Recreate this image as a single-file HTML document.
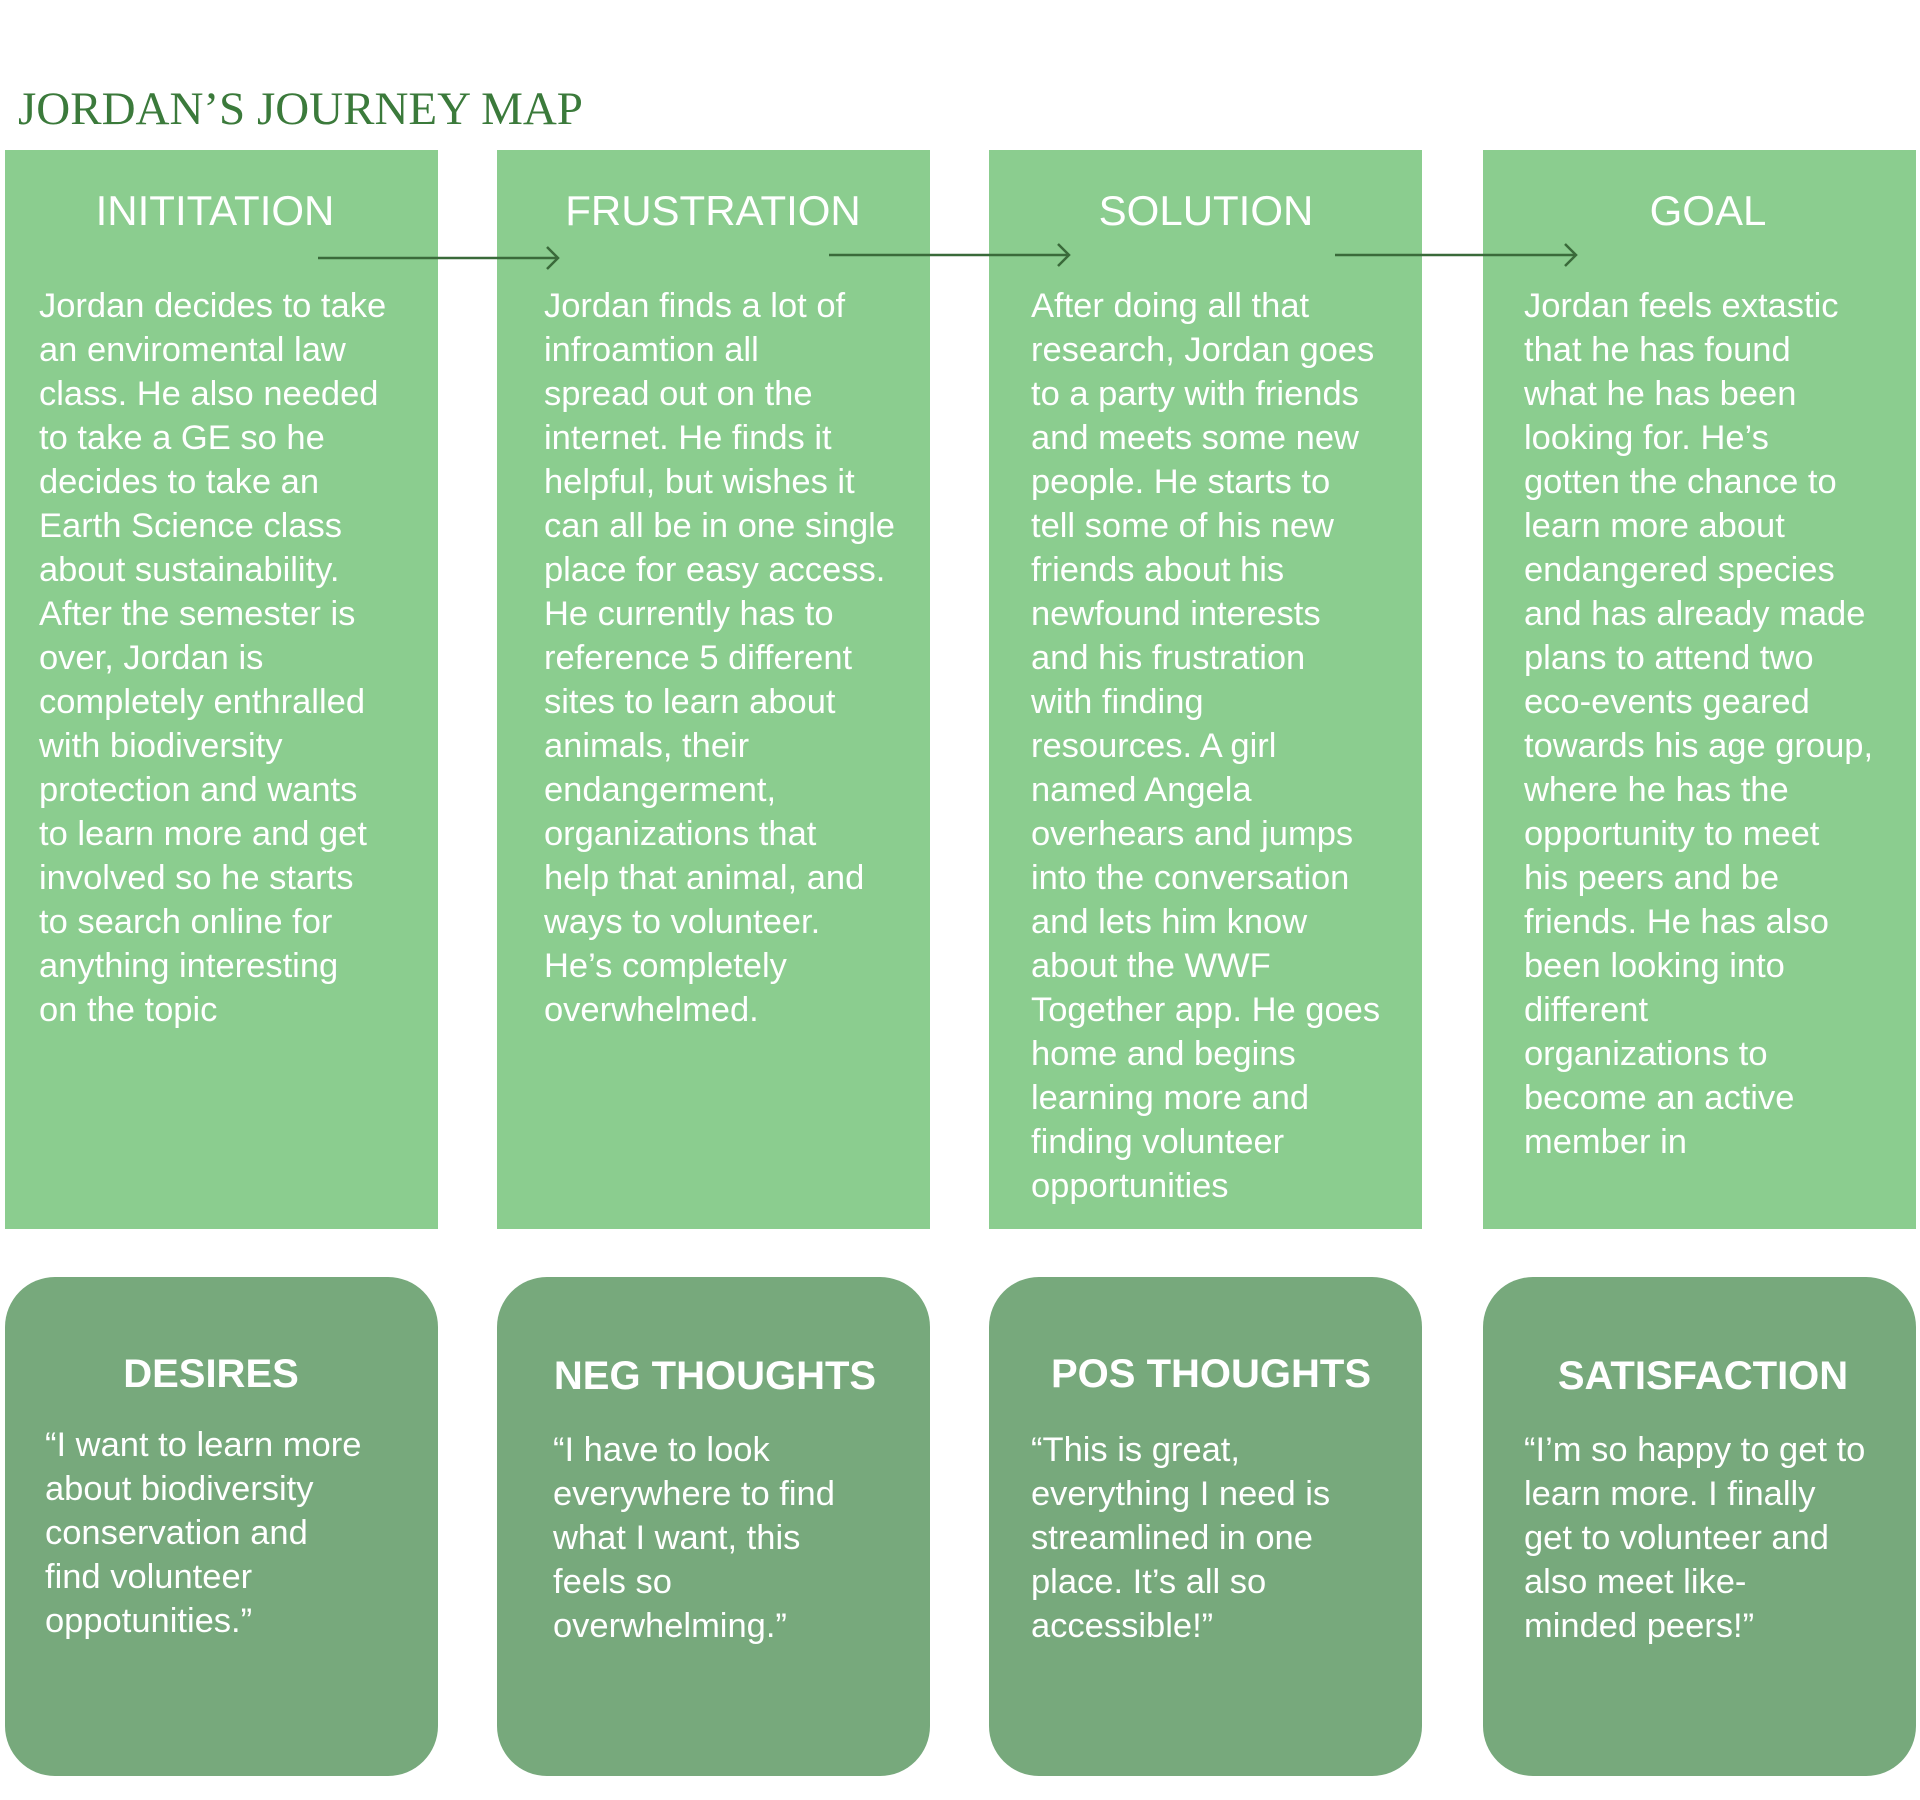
<!DOCTYPE html>
<html><head><meta charset="utf-8"><style>
body{margin:0;width:1920px;height:1800px;background:#fff;position:relative;overflow:hidden;font-family:"Liberation Sans",sans-serif;}
.t{position:absolute;left:18px;top:82px;font-family:"Liberation Serif",serif;font-size:47px;color:#3b7a3b;white-space:nowrap;}
.box{position:absolute;top:150px;width:433px;height:1079px;background:#8bcd8f;}
.bb{position:absolute;top:1277px;width:433px;height:499px;background:#77a97c;border-radius:50px;}
.h{position:absolute;color:#fff;font-size:42px;white-space:nowrap;transform:translateX(-50%);line-height:44px;}
.hb{font-weight:bold;font-size:40px;}
.p{position:absolute;color:#fff;font-size:34.5px;line-height:44px;white-space:nowrap;}
svg{position:absolute;left:0;top:0;}
</style></head><body>
<div class="t">JORDAN’S JOURNEY MAP</div>
<div class="box" style="left:5px"></div>
<div class="box" style="left:497px"></div>
<div class="box" style="left:989px"></div>
<div class="box" style="left:1483px"></div>
<div class="bb" style="left:5px"></div>
<div class="bb" style="left:497px"></div>
<div class="bb" style="left:989px"></div>
<div class="bb" style="left:1483px"></div>
<svg width="1920" height="1800">
<g stroke="#3a6a3a" stroke-width="2.5" fill="none">
<line x1="318" y1="258" x2="557" y2="258"/><polyline points="547,247 558,258 547,269"/>
<line x1="829" y1="255" x2="1068" y2="255"/><polyline points="1058,244 1069,255 1058,266"/>
<line x1="1335" y1="255" x2="1575" y2="255"/><polyline points="1565,244 1576,255 1565,266"/>
</g></svg>
<div class="h" style="left:215px;top:189px">INITITATION</div>
<div class="h" style="left:713px;top:189px">FRUSTRATION</div>
<div class="h" style="left:1206px;top:189px">SOLUTION</div>
<div class="h" style="left:1708px;top:189px">GOAL</div>
<div class="p" style="left:39px;top:284px">Jordan decides to take<br>an enviromental law<br>class. He also needed<br>to take a GE so he<br>decides to take an<br>Earth Science class<br>about sustainability.<br>After the semester is<br>over, Jordan is<br>completely enthralled<br>with biodiversity<br>protection and wants<br>to learn more and get<br>involved so he starts<br>to search online for<br>anything interesting<br>on the topic</div>
<div class="p" style="left:544px;top:284px">Jordan finds a lot of<br>infroamtion all<br>spread out on the<br>internet. He finds it<br>helpful, but wishes it<br>can all be in one single<br>place for easy access.<br>He currently has to<br>reference 5 different<br>sites to learn about<br>animals, their<br>endangerment,<br>organizations that<br>help that animal, and<br>ways to volunteer.<br>He’s completely<br>overwhelmed.</div>
<div class="p" style="left:1031px;top:284px">After doing all that<br>research, Jordan goes<br>to a party with friends<br>and meets some new<br>people. He starts to<br>tell some of his new<br>friends about his<br>newfound interests<br>and his frustration<br>with finding<br>resources. A girl<br>named Angela<br>overhears and jumps<br>into the conversation<br>and lets him know<br>about the WWF<br>Together app. He goes<br>home and begins<br>learning more and<br>finding volunteer<br>opportunities</div>
<div class="p" style="left:1524px;top:284px">Jordan feels extastic<br>that he has found<br>what he has been<br>looking for. He’s<br>gotten the chance to<br>learn more about<br>endangered species<br>and has already made<br>plans to attend two<br>eco-events geared<br>towards his age group,<br>where he has the<br>opportunity to meet<br>his peers and be<br>friends. He has also<br>been looking into<br>different<br>organizations to<br>become an active<br>member in</div>
<div class="h hb" style="left:211px;top:1352px">DESIRES</div>
<div class="h hb" style="left:715px;top:1354px">NEG THOUGHTS</div>
<div class="h hb" style="left:1211px;top:1352px">POS THOUGHTS</div>
<div class="h hb" style="left:1703px;top:1354px">SATISFACTION</div>
<div class="p" style="left:45px;top:1423px">“I want to learn more<br>about biodiversity<br>conservation and<br>find volunteer<br>oppotunities.”</div>
<div class="p" style="left:553px;top:1428px">“I have to look<br>everywhere to find<br>what I want, this<br>feels so<br>overwhelming.”</div>
<div class="p" style="left:1031px;top:1428px">“This is great,<br>everything I need is<br>streamlined in one<br>place. It’s all so<br>accessible!”</div>
<div class="p" style="left:1524px;top:1428px">“I’m so happy to get to<br>learn more. I finally<br>get to volunteer and<br>also meet like-<br>minded peers!”</div>
</body></html>
